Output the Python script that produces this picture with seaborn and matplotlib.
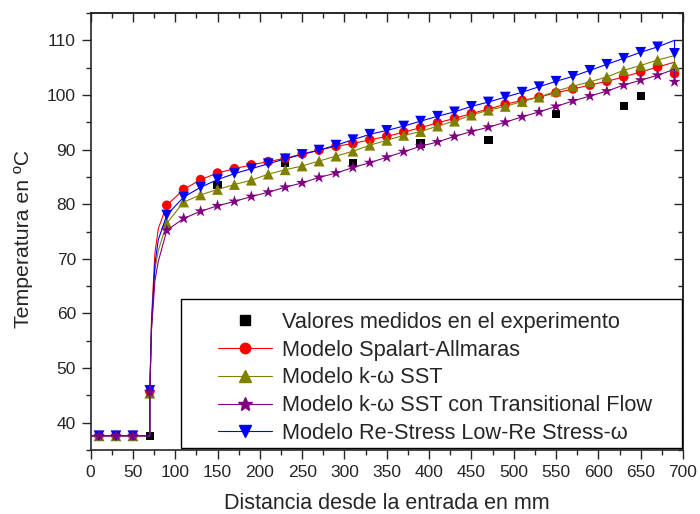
import matplotlib
matplotlib.use("Agg")
import matplotlib.pyplot as plt
import seaborn as sns
from matplotlib.lines import Line2D
from matplotlib.patches import Rectangle
from matplotlib.ticker import MultipleLocator

sns.set_style("ticks")
plt.rcParams["font.family"] = ["Liberation Sans", "DejaVu Sans"]

# Axial positions (mm) of the sampled model results
x_model = [10, 30, 50, 70, 90, 110, 130, 150, 170, 190, 210, 230, 250, 270,
           290, 310, 330, 350, 370, 390, 410, 430, 450, 470, 490, 510, 530,
           550, 570, 590, 610, 630, 650, 670, 690]

t_spalart = [37.6, 37.6, 37.6, 45.7, 79.8, 82.7, 84.5, 85.7, 86.5, 87.2, 87.8,
             88.4, 89.2, 89.9, 90.6, 91.1, 91.8, 92.4, 93.2, 94.0, 94.9, 95.7,
             96.6, 97.4, 98.3, 99.0, 99.6, 100.4, 101.1, 101.8, 102.5, 103.3,
             104.2, 105.1, 103.9]
t_sst = [37.6, 37.6, 37.6, 45.4, 76.5, 80.4, 81.7, 82.7, 83.6, 84.4, 85.5,
         86.3, 87.0, 87.9, 88.8, 89.7, 90.8, 91.7, 92.6, 93.3, 94.3, 95.2,
         96.3, 97.2, 97.9, 98.8, 99.6, 100.7, 101.6, 102.4, 103.3, 104.5,
         105.4, 106.4, 105.3]
t_sst_trans = [37.6, 37.6, 37.6, 45.6, 75.2, 77.4, 78.7, 79.7, 80.5, 81.4,
               82.2, 83.1, 83.9, 84.9, 85.7, 86.7, 87.6, 88.6, 89.6, 90.6,
               91.4, 92.4, 93.3, 94.1, 95.0, 96.0, 96.9, 97.9, 98.9, 99.8,
               100.7, 101.8, 102.7, 103.6, 102.4]
t_rsm = [37.6, 37.6, 37.6, 45.9, 78.0, 81.3, 83.1, 84.5, 85.6, 86.5, 87.4,
         88.3, 89.1, 89.9, 90.8, 91.8, 92.8, 93.5, 94.3, 95.2, 96.1, 96.9,
         97.9, 98.7, 99.6, 100.5, 101.5, 102.5, 103.4, 104.5, 105.6, 106.7,
         107.8, 108.8, 107.6]

# Measured values
x_exp = [70, 150, 230, 310, 390, 470, 550, 630, 650]
t_exp = [37.6, 83.5, 87.6, 87.6, 91.1, 91.7, 96.5, 98.0, 99.8]

# Continuous profiles: inlet plateau, heated-section onset, steep rise, outlet
x_inlet = [0, 10, 30, 50, 70]
t_inlet = 37.6
x_rise = [72, 76, 80]
rise_spalart = [59.0, 71.0, 75.5]
rise_sst = [57.5, 68.0, 71.5]
rise_sst_trans = [57.0, 66.0, 69.5]
rise_rsm = [58.0, 69.0, 73.5]
x_outlet = 690
end_spalart = 106.0
end_sst = 107.2
end_sst_trans = 104.7
end_rsm = 110.0

labels = ["Valores medidos en el experimento",
          "Modelo Spalart-Allmaras",
          "Modelo k-\u03c9 SST",
          "Modelo k-\u03c9 SST con Transitional Flow",
          "Modelo Re-Stress Low-Re Stress-\u03c9"]


def profile(values, rise, end):
    xs = x_inlet + [x_model[3]] + x_rise + x_model[4:-1] + [x_outlet, x_outlet]
    ys = [t_inlet] * len(x_inlet) + [values[3]] + rise + values[4:-1] + [end, values[-1]]
    return xs, ys


fig = plt.figure(figsize=(7.0, 5.14), dpi=100)
ax = fig.add_axes([0.1294, 0.1245, 0.8463, 0.8502])

sns.scatterplot(x=x_exp, y=t_exp, marker="s", s=6.0 ** 2, color="black",
                edgecolor="none", ax=ax, zorder=3, legend=False)

series = [
    (t_spalart, rise_spalart, end_spalart, "#FF0000", "o", 6.9),
    (t_sst, rise_sst, end_sst, "#808000", "^", 7.8),
    (t_rsm, rise_rsm, end_rsm, "#0000FF", "v", 7.8),
    (t_sst_trans, rise_sst_trans, end_sst_trans, "#800080", "*", 9.0),
]
for i, (vals, rise, end, col, mk, ms) in enumerate(series):
    xs, ys = profile(vals, rise, end)
    sns.lineplot(x=xs, y=ys, estimator=None, sort=False, color=col,
                 linewidth=0.8, ax=ax, zorder=4 + 2 * i)
    sns.scatterplot(x=x_model, y=vals, marker=mk, s=ms ** 2, color=col,
                    edgecolor="none", ax=ax, zorder=5 + 2 * i, legend=False)

ax.set_xlim(0, 700)
ax.set_ylim(35, 115)
ax.xaxis.set_major_locator(MultipleLocator(50))
ax.xaxis.set_minor_locator(MultipleLocator(25))
ax.yaxis.set_major_locator(MultipleLocator(10))
ax.yaxis.set_minor_locator(MultipleLocator(5))
ax.tick_params(which="major", direction="out", length=6.5, width=1.0,
               labelsize=12.5, pad=4)
ax.tick_params(which="minor", direction="out", length=3.4, width=1.0)
for sp in ax.spines.values():
    sp.set_visible(True)
    sp.set_linewidth(1.2)

# Mirrored inward ticks on top and right
secx = ax.secondary_xaxis("top")
secx.xaxis.set_major_locator(MultipleLocator(50))
secx.xaxis.set_minor_locator(MultipleLocator(25))
secx.tick_params(which="major", direction="in", length=6.5, width=1.0, labeltop=False)
secx.tick_params(which="minor", direction="in", length=3.4, width=1.0)
secx.spines["top"].set_linewidth(1.2)
secy = ax.secondary_yaxis("right")
secy.yaxis.set_major_locator(MultipleLocator(10))
secy.yaxis.set_minor_locator(MultipleLocator(5))
secy.tick_params(which="major", direction="in", length=6.5, width=1.0, labelright=False)
secy.tick_params(which="minor", direction="in", length=3.4, width=1.0)
secy.spines["right"].set_linewidth(1.2)

ax.set_xlabel("Distancia desde la entrada en mm", fontsize=15.5, labelpad=10)
ax.set_ylabel("Temperatura en ºC", fontsize=15.3, labelpad=10)
ax.yaxis.set_label_coords(-0.098, 0.483)

# Legend box
ax.add_patch(Rectangle((0.152, 0.004), 0.846, 0.341, transform=ax.transAxes,
                       facecolor="white", edgecolor="black", linewidth=1.0,
                       zorder=20))
handles = [
    Line2D([], [], color="black", marker="s", linestyle="none", markersize=6.5),
    Line2D([], [], color="#FF0000", marker="o", linewidth=0.8, markersize=7.5),
    Line2D([], [], color="#808000", marker="^", linewidth=0.8, markersize=8.5),
    Line2D([], [], color="#800080", marker="*", linewidth=0.8, markersize=10),
    Line2D([], [], color="#0000FF", marker="v", linewidth=0.8, markersize=8.5),
]
leg = ax.legend(handles, labels, loc="upper left", bbox_to_anchor=(0.215, 0.316),
                frameon=False, fontsize=15.7, handlelength=2.5, handletextpad=0.42,
                labelspacing=0.31, borderpad=0, borderaxespad=0, numpoints=1)
leg.set_zorder(21)

fig.savefig("out.png", dpi=100)
